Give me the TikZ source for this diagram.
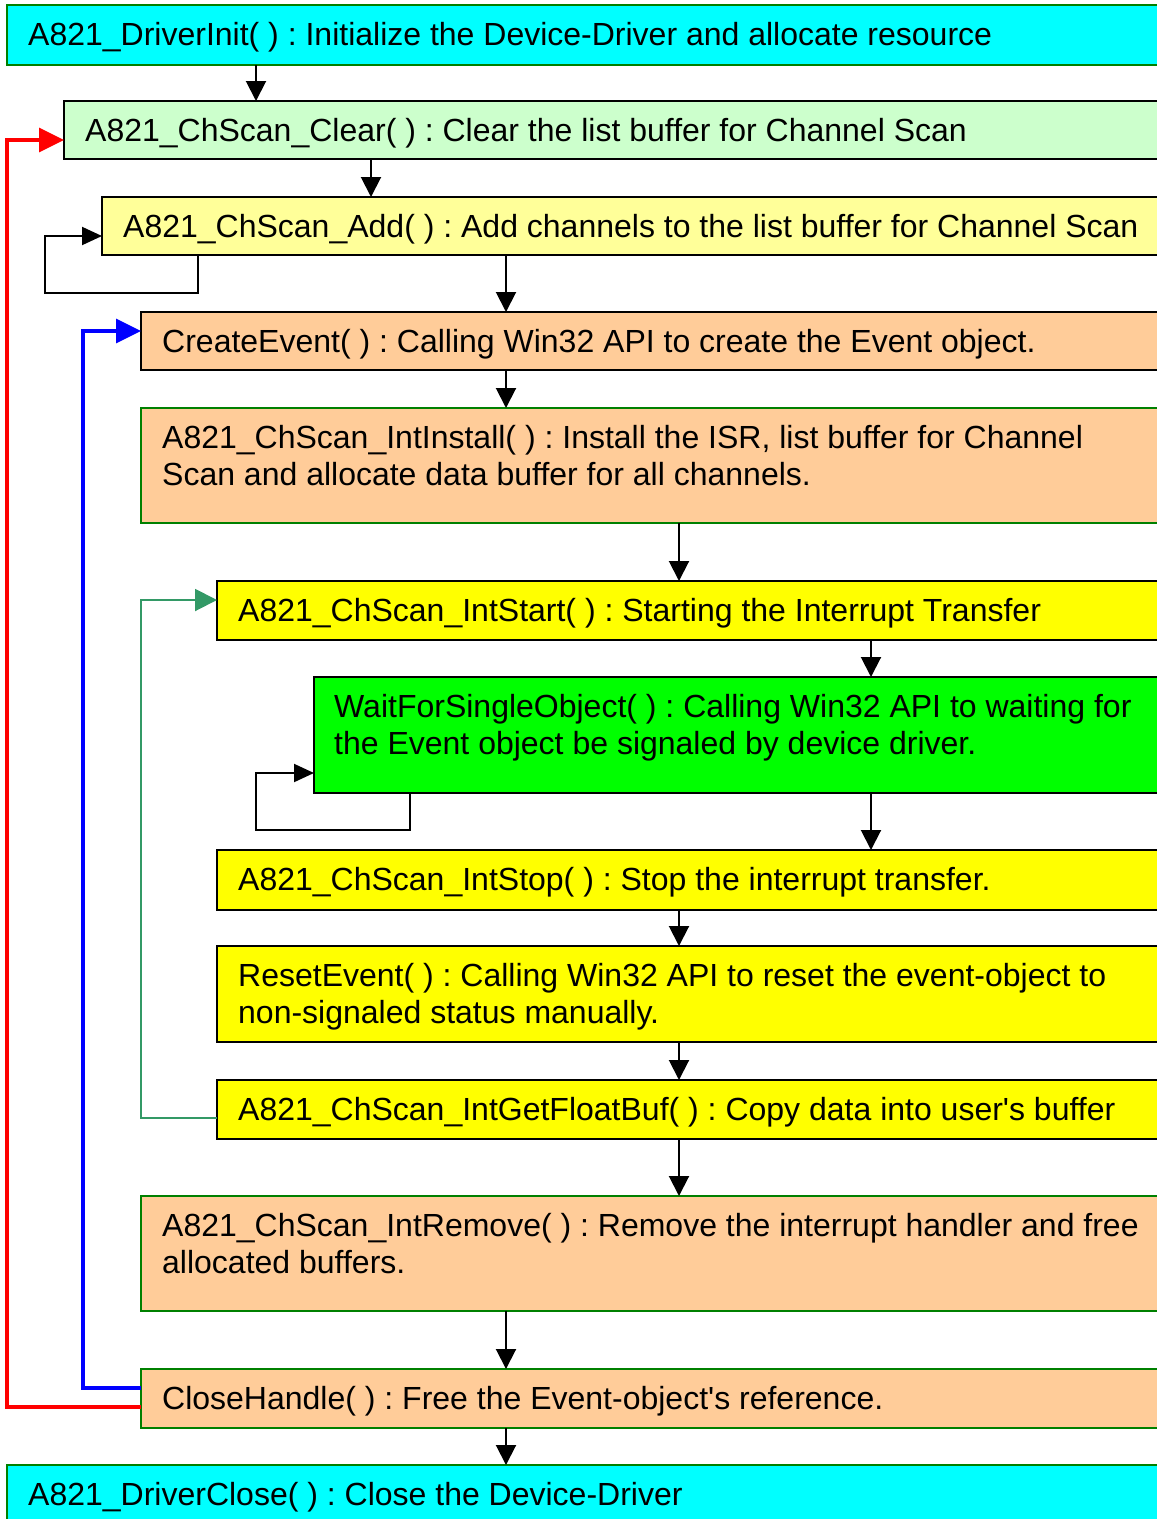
\documentclass[tikz,border=0pt]{standalone}
\usepackage{fontspec}
\setmainfont{Liberation Sans}[Ligatures=TeXOff]
\usetikzlibrary{arrows.meta}
\frenchspacing

\definecolor{cyanbox}{HTML}{00FFFF}
\definecolor{mintbox}{HTML}{CCFFCC}
\definecolor{paleyellow}{HTML}{FFFF99}
\definecolor{peach}{HTML}{FFCC99}
\definecolor{brightyellow}{HTML}{FFFF00}
\definecolor{brightgreen}{HTML}{00FF00}
\definecolor{edgegreen}{HTML}{008000}
\definecolor{loopgreen}{HTML}{339966}

\begin{document}
\begin{tikzpicture}[x=1pt,y=-1pt,
  box/.style={rectangle, draw, line width=2pt, inner sep=0pt, outer sep=0pt,
    anchor=north west},
  blackedge/.style={box, draw=black},
  greenedge/.style={box, draw=edgegreen},
  txt/.style={anchor=base west, inner sep=0pt,
    font=\fontsize{32}{37}\selectfont},
  arr/.style={draw=black, line width=2pt,
    -{Triangle[length=20pt,width=20pt]}},
  selfloop/.style={draw=black, line width=2pt,
    -{Triangle[length=20pt,width=18pt]}},
  backred/.style={draw=red, line width=3.5pt,
    -{Triangle[length=25pt,width=24pt]}},
  backblue/.style={draw=blue, line width=3.5pt,
    -{Triangle[length=25pt,width=24pt]}},
  backgreen/.style={draw=loopgreen, line width=2pt,
    -{Triangle[length=22pt,width=22pt]}}]

\fill[white] (0,0) rectangle (1157,1519);
\useasboundingbox (0,0) rectangle (1157,1519);

% boxes (they run past the right edge of the page)
\node[greenedge, fill=cyanbox, minimum width=1170pt, minimum height=60pt] (init) at (7,5) {};
\node[blackedge, fill=mintbox, minimum width=1110pt, minimum height=58pt] (clear) at (64,101) {};
\node[blackedge, fill=paleyellow, minimum width=1070pt, minimum height=58pt] (add) at (102,197) {};
\node[blackedge, fill=peach, minimum width=1030pt, minimum height=58pt] (create) at (141,312) {};
\node[greenedge, fill=peach, minimum width=1030pt, minimum height=115pt] (inst) at (141,408) {};
\node[blackedge, fill=brightyellow, minimum width=960pt, minimum height=59pt] (start) at (217,581) {};
\node[blackedge, fill=brightgreen, minimum width=860pt, minimum height=116pt] (wait) at (314,677) {};
\node[blackedge, fill=brightyellow, minimum width=960pt, minimum height=60pt] (stop) at (217,850) {};
\node[blackedge, fill=brightyellow, minimum width=960pt, minimum height=96pt] (reset) at (217,946) {};
\node[blackedge, fill=brightyellow, minimum width=960pt, minimum height=59pt] (getbuf) at (217,1080) {};
\node[greenedge, fill=peach, minimum width=1030pt, minimum height=115pt] (remove) at (141,1196) {};
\node[greenedge, fill=peach, minimum width=1030pt, minimum height=59pt] (close) at (141,1369) {};
\node[greenedge, fill=cyanbox, minimum width=1170pt, minimum height=70pt] (dclose) at (7,1465) {};

% box texts
\node[txt] (init-t) at ([shift={(21,40)}]init.north west) {A821\_DriverInit( ) : Initialize the Device-Driver and allocate resource};
\node[txt] (clear-t) at ([shift={(21,40)}]clear.north west) {A821\_ChScan\_Clear( ) : Clear the list buffer for Channel Scan};
\node[txt] (add-t) at ([shift={(21,40)}]add.north west) {A821\_ChScan\_Add( ) : Add channels to the list buffer for Channel Scan};
\node[txt] (create-t) at ([shift={(21,40)}]create.north west) {CreateEvent( ) : Calling Win32 API to create the Event object.};
\node[txt] (inst-t1) at ([shift={(21,40)}]inst.north west) {A821\_ChScan\_IntInstall( ) : Install the ISR, list buffer for Channel};
\node[txt] (inst-t2) at ([shift={(21,77)}]inst.north west) {Scan and allocate data buffer for all channels.};
\node[txt] (start-t) at ([shift={(21,40)}]start.north west) {A821\_ChScan\_IntStart( ) : Starting the Interrupt Transfer};
\node[txt] (wait-t1) at ([shift={(20,40)}]wait.north west) {WaitForSingleObject( ) : Calling Win32 API to waiting for};
\node[txt] (wait-t2) at ([shift={(20,77)}]wait.north west) {the Event object be signaled by device driver.};
\node[txt] (stop-t) at ([shift={(21,40)}]stop.north west) {A821\_ChScan\_IntStop( ) : Stop the interrupt transfer.};
\node[txt] (reset-t1) at ([shift={(21,40)}]reset.north west) {ResetEvent( ) : Calling Win32 API to reset the event-object to};
\node[txt] (reset-t2) at ([shift={(21,77)}]reset.north west) {non-signaled status manually.};
\node[txt] (getbuf-t) at ([shift={(21,40)}]getbuf.north west) {A821\_ChScan\_IntGetFloatBuf( ) : Copy data into user's buffer};
\node[txt] (remove-t1) at ([shift={(21,40)}]remove.north west) {A821\_ChScan\_IntRemove( ) : Remove the interrupt handler and free};
\node[txt] (remove-t2) at ([shift={(21,77)}]remove.north west) {allocated buffers.};
\node[txt] (close-t) at ([shift={(21,40)}]close.north west) {CloseHandle( ) : Free the Event-object's reference.};
\node[txt] (dclose-t) at ([shift={(21,40)}]dclose.north west) {A821\_DriverClose( ) : Close the Device-Driver};

% main flow
\draw[arr] (256,0 |- init.south) -- (256,0 |- clear.north);
\draw[arr] (371,0 |- clear.south) -- (371,0 |- add.north);
\draw[arr] (506,0 |- add.south) -- (506,0 |- create.north);
\draw[arr] (506,0 |- create.south) -- (506,0 |- inst.north);
\draw[arr] (679,0 |- inst.south) -- (679,0 |- start.north);
\draw[arr] (871,0 |- start.south) -- (871,0 |- wait.north);
\draw[arr] (871,0 |- wait.south) -- (871,0 |- stop.north);
\draw[arr] (679,0 |- stop.south) -- (679,0 |- reset.north);
\draw[arr] (679,0 |- reset.south) -- (679,0 |- getbuf.north);
\draw[arr] (679,0 |- getbuf.south) -- (679,0 |- remove.north);
\draw[arr] (506,0 |- remove.south) -- (506,0 |- close.north);
\draw[arr] (506,0 |- close.south) -- (506,0 |- dclose.north);

% repeat loops
\draw[selfloop] (198,0 |- add.south) -- (198,293) -- (45,293) -- (45,236) -- (add.west |- 0,236);
\draw[selfloop] (410,0 |- wait.south) -- (410,830) -- (256,830) -- (256,773) -- (wait.west |- 0,773);
\draw[backgreen] (getbuf.west |- 0,1118) -- (141,1118) -- (141,600) -- (start.west |- 0,600);
\draw[backblue] (close.west |- 0,1388) -- (83,1388) -- (83,331) -- (create.west |- 0,331);
\draw[backred] (close.west |- 0,1407) -- (7,1407) -- (7,140) -- (clear.west |- 0,140);
\end{tikzpicture}
\end{document}
